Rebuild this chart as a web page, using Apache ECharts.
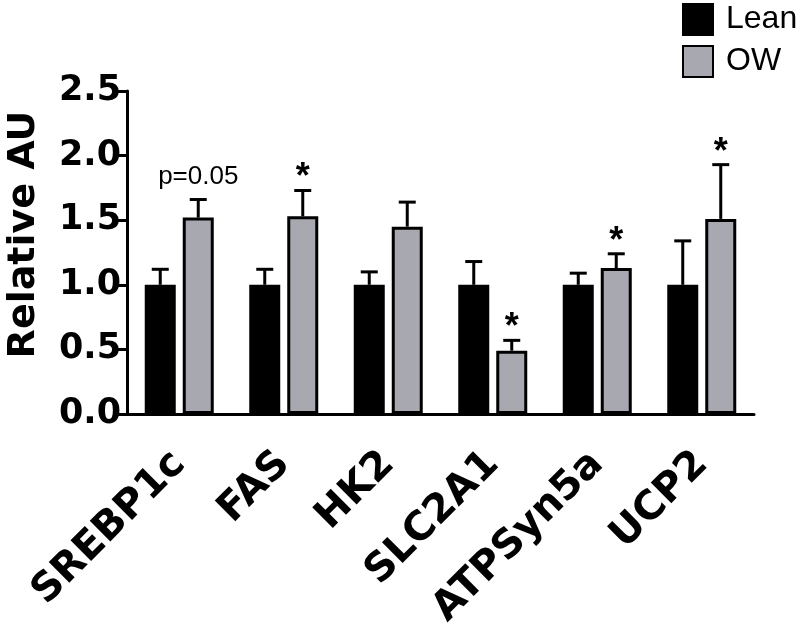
<!DOCTYPE html>
<html>
<head>
<meta charset="utf-8">
<script src="https://cdn.jsdelivr.net/npm/echarts@6/dist/echarts.min.js"></script>
<style>html,body{margin:0;padding:0;background:#fff}#c{width:800px;height:624px}</style>
</head>
<body>
<div id="c"></div>
<script>
const categories = ['SREBP1c', 'FAS', 'HK2', 'SLC2A1', 'ATPSyn5a', 'UCP2'];
const leanMean = [1.0, 1.0, 1.0, 1.0, 1.0, 1.0];
const leanErr = [0.12, 0.12, 0.10, 0.18, 0.09, 0.34];
const owMean = [1.52, 1.53, 1.45, 0.49, 1.13, 1.51];
const owErr = [0.14, 0.20, 0.19, 0.08, 0.11, 0.42];
const annotations = ['p=0.05', '*', '', '*', '*', '*'];
const yTicks = [0, 0.5, 1.0, 1.5, 2.0, 2.5];

const BAR_W = 31, BORDER = 3, GAP_PX = 7;
const HALF = (BAR_W + GAP_PX) / 2;

function errData(mean, err, ann) {
  return mean.map((m, i) => [i, m, m + err[i], ann ? ann[i] : '']);
}

function makeErr(offset) {
  return function (params, api) {
    const idx = api.value(0);
    const cx = api.coord([idx, 0])[0] + offset;
    const yTop = api.coord([idx, api.value(1)])[1];
    const yCap = api.coord([idx, api.value(2)])[1];
    const children = [
      { type: 'line', shape: { x1: cx, y1: yTop, x2: cx, y2: yCap }, style: { stroke: '#000', lineWidth: 3 } },
      { type: 'line', shape: { x1: cx - 8.5, y1: yCap, x2: cx + 8.5, y2: yCap }, style: { stroke: '#000', lineWidth: 3 } }
    ];
    const txt = api.value(3);
    if (txt) {
      const star = txt === '*';
      children.push({
        type: 'text', x: cx, y: yCap - (star ? 12 : 23),
        style: {
          text: txt, fill: '#000', align: 'center', verticalAlign: 'middle',
          fontFamily: 'Liberation Sans, Arial, sans-serif',
          fontSize: star ? 36 : 26, fontWeight: star ? 'bold' : 'normal'
        }
      });
    }
    return { type: 'group', children };
  };
}

const chart = echarts.init(document.getElementById('c'), null, { renderer: 'canvas' });
chart.setOption({
  animation: false,
  backgroundColor: '#fff',
  grid: { left: 127, right: 46, top: 91, bottom: 210, containLabel: false, outerBoundsMode: 'none' },
  legend: {
    orient: 'vertical', left: 682, top: 3, padding: 0, itemWidth: 30, itemHeight: 31, itemGap: 9,
    icon: 'rect', data: ['Lean', 'OW'],
    textStyle: { fontSize: 32, color: '#000', fontFamily: 'Liberation Sans, Arial, sans-serif', padding: [0, 0, 0, 8] }
  },
  xAxis: {
    type: 'category', data: categories,
    axisLine: { lineStyle: { color: '#000', width: 3 } },
    axisTick: { alignWithLabel: true, length: 10, lineStyle: { color: '#000', width: 3 } },
    axisLabel: {
      rotate: 45, margin: 44, color: '#000', fontSize: 40, fontWeight: 'bold',
      fontFamily: 'DejaVu Sans, sans-serif', interval: 0
    }
  },
  yAxis: {
    type: 'value', min: 0, max: 2.5, interval: 0.5,
    name: 'Relative AU', nameLocation: 'middle', nameGap: 84,
    nameTextStyle: { fontSize: 38, fontWeight: 'bold', color: '#000', fontFamily: 'DejaVu Sans, sans-serif', padding: [0, 0, 0, 36] },
    axisLine: { show: true, lineStyle: { color: '#000', width: 3 } },
    axisTick: { show: true, length: 9, lineStyle: { color: '#000', width: 3 } },
    splitLine: { show: false },
    axisLabel: {
      margin: 6, color: '#000', fontSize: 35, fontWeight: 'bold', fontFamily: 'DejaVu Sans, sans-serif',
      formatter: v => yTicks.includes(v) ? v.toFixed(1) : ''
    }
  },
  series: [
    {
      name: 'Lean', type: 'bar', data: leanMean, barWidth: BAR_W, barGap: (GAP_PX / BAR_W * 100) + '%',
      itemStyle: { color: '#000', borderColor: '#000', borderWidth: BORDER }
    },
    {
      name: 'OW', type: 'bar', data: owMean, barWidth: BAR_W,
      itemStyle: { color: '#a7a8b0', borderColor: '#000', borderWidth: BORDER }
    },
    { name: 'leanErr', type: 'custom', renderItem: makeErr(-HALF), data: errData(leanMean, leanErr), z: 5 },
    { name: 'owErr', type: 'custom', renderItem: makeErr(HALF), data: errData(owMean, owErr, annotations), z: 5 }
  ]
});
</script>
</body>
</html>
